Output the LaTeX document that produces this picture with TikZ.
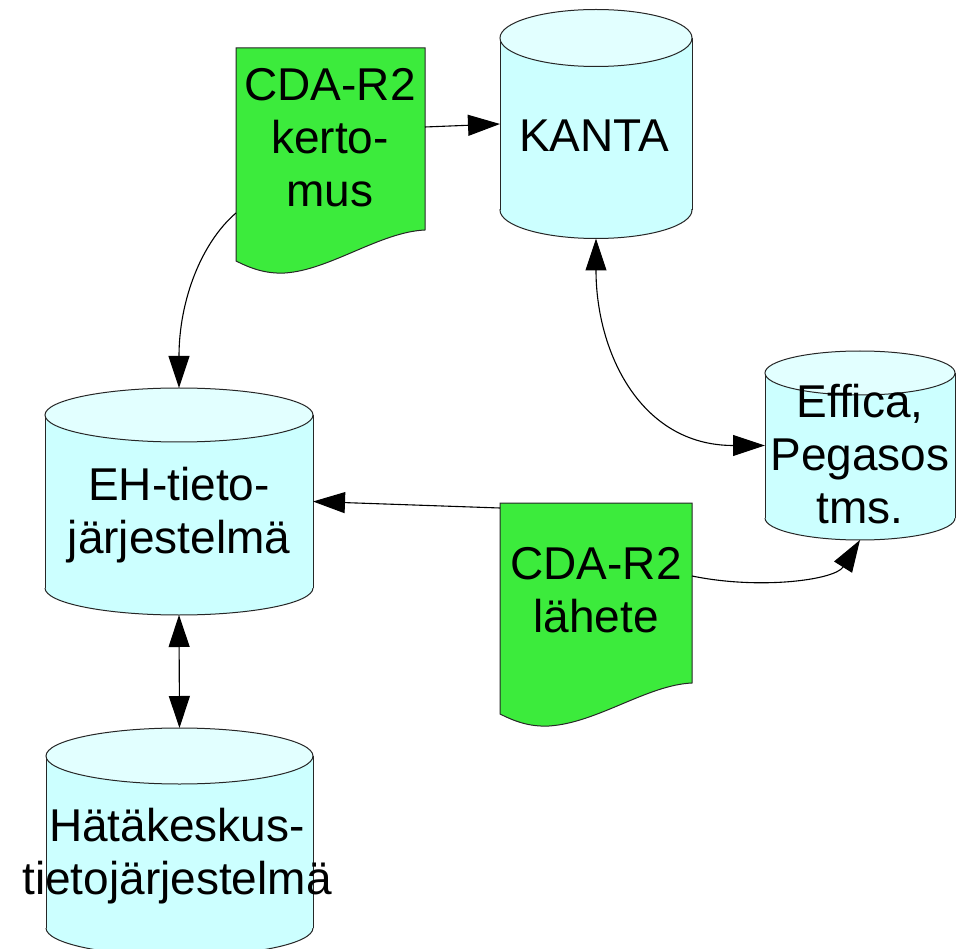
\documentclass[tikz,border=0pt]{standalone}
\usepackage{fontspec}
\setmainfont{Liberation Sans}
\usetikzlibrary{arrows.meta,calc}
\definecolor{cylbodyc}{RGB}{204,255,255}
\definecolor{cyltopc}{RGB}{226,255,255}
\definecolor{docgreen}{RGB}{60,235,60}

% cylinder: name, x1, x2, ytop, ybot, ry
\newcommand\cylshape[6]{%
  \pgfmathsetmacro\cylcx{(#2+#3)/2}%
  \pgfmathsetmacro\cylrx{(#3-#2)/2}%
  \pgfmathsetmacro\cylcy{(#4+#5)/2}%
  \pgfmathsetmacro\cylhh{#5-#4+2*#6}%
  \fill[cylbody] (#2,#4) rectangle (#3,#5);
  \fill[cylbody] (\cylcx,#5) ellipse [x radius=\cylrx, y radius=#6];
  \begin{scope}
    \clip (#2-3,#5) rectangle (#3+3,#5+#6+3);
    \draw[cylline] (\cylcx,#5) ellipse [x radius=\cylrx, y radius=#6];
  \end{scope}
  \draw[cylline] (#2,#4) -- (#2,#5) (#3,#4) -- (#3,#5);
  \draw[cylline, fill=cyltopc] (\cylcx,#4) ellipse [x radius=\cylrx, y radius=#6];
  \node[anchorbox, minimum width={2*\cylrx pt}, minimum height={\cylhh pt}] (#1) at (\cylcx,\cylcy) {};
}

% document: name, x1, y1, w, h
\newcommand\docshape[5]{%
  \begin{scope}[shift={(#2,#3)}]
    \draw[docstyle] (0,0) -- (#4,0) -- (#4,#5)
      .. controls (#4-45,#5+2) and (#4-95,#5+40) .. (49,#5+43)
      .. controls (29,#5+44) and (14,#5+38) .. (0,#5+31) -- cycle;
    \node[anchorbox, minimum width={#4 pt}, minimum height={(#5+43)*1pt}] (#1) at (#4/2,{(#5+43)/2}) {};
  \end{scope}
}

\begin{document}
\begin{tikzpicture}[x=1pt,y=-1pt,
  cylbody/.style={fill=cylbodyc},
  cylline/.style={draw=black!85, line width=1pt},
  docstyle/.style={draw=black!85, line width=1pt, fill=docgreen},
  anchorbox/.style={rectangle, inner sep=0pt, outer sep=0pt, draw=none},
  lbl/.style={font=\fontsize{46pt}{53pt}\selectfont, align=center, inner sep=0pt},
  conn/.style={line width=1.1pt, draw=black},
  >={Triangle[length=32pt,width=21pt]}]
\useasboundingbox[fill=white] (0,0) rectangle (956,949);

% shapes
\cylshape{kanta}{500}{692}{38}{210}{28.5}
\cylshape{eh}{45}{313}{415}{588}{27}
\cylshape{effica}{765}{955}{373}{518}{22}
\cylshape{hata}{46}{313}{756}{928}{28}
\docshape{kert}{236}{48}{189}{182}
\docshape{lah}{500}{503}{192}{180}

% labels
\node[lbl] (kantat) at (594,136) {KANTA};
\node[lbl] (kertt) at (330,138) {CDA-R2\\kerto-\\mus};
\node[lbl] (eht) at (179,515) {EH-tieto-\\järjestelmä};
\node[lbl] (efft) at (860,454) {Effica,\\Pegasos\\tms.};
\node[lbl] (laht) at (596,590) {CDA-R2\\lähete};
\node[lbl] (hatat) at (177,856) {Hätäkeskus-\\tietojärjestelmä};

% connectors
\draw[conn,->] ($(kert.north east)+(0,79)$) -- (kanta.west);

\coordinate (s1) at ($(kert.north west)+(0,165)$);
\draw[conn,->] (s1) .. controls ($(s1)+(-35,30)$) and ($(eh.north)+(0,-87)$) .. (eh.north);

\draw[conn,<->] (kanta.south) .. controls ($(kanta.south)+(0,113)$) and ($(effica.west)+(-125,0)$) .. (effica.west);

\coordinate (s2) at ($(lah.north west)+(0,5)$);
\draw[conn,->] (s2) -- (eh.east);

\coordinate (s3) at ($(lah.north east)+(0,73)$);
\draw[conn,->] (s3) .. controls ($(s3)+(68,14)$) and ($(effica.south)+(-25,40)$) .. (effica.south);

\draw[conn,<->] (eh.south) -- (hata.north);
\end{tikzpicture}
\end{document}
